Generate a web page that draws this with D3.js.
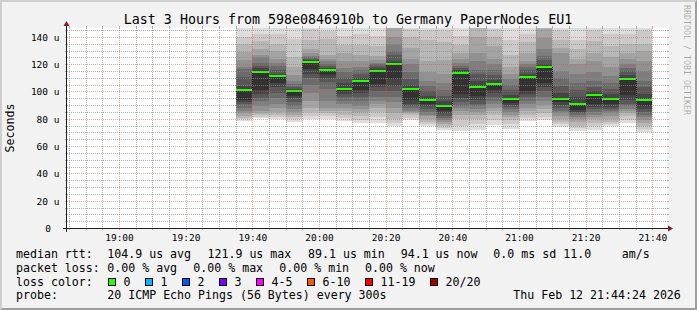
<!DOCTYPE html>
<html>
<head>
<meta charset="utf-8">
<script src="https://cdn.jsdelivr.net/npm/d3@7"></script>
<style>
  html, body { margin: 0; padding: 0; background: #f2f2f2; }
  svg { display: block; }
  text { font-family: "DejaVu Sans Mono", monospace; fill: #000; }
</style>
</head>
<body>
<svg id="chart" width="697" height="310"></svg>
<script>
// ---- data ----
const title = 'Last 3 Hours from 598e0846910b to Germany PaperNodes EU1';
const day = '2026-02-12';
const rangeStart = '18:44:24';
const rangeEnd = '21:44:24';

// end of each 300s step
const slots = ['19:40', '19:45', '19:50', '19:55', '20:00', '20:05', '20:10', '20:15', '20:20',
  '20:25', '20:30', '20:35', '20:40', '20:45', '20:50', '20:55', '21:00', '21:05', '21:10',
  '21:15', '21:20', '21:25', '21:30', '21:35', '21:40'];

// 20 sorted ping times (us) per step; the 11th one is the median
const pings = [
  [78.5, 79.5, 80.5, 82, 84, 86, 88, 91, 92, 93.4, 101.2, 104, 110.8, 116.6, 118, 122.7, 128.8, 134.9, 139.8, 150],
  [80.5, 81.5, 82.5, 84, 86, 89, 93, 95, 98, 101, 114.6, 117, 119, 121, 125, 127, 131, 137, 142, 150],
  [80, 81.5, 83, 85, 88, 91, 95, 99, 103, 106, 111.4, 113, 116, 119, 121, 124, 130, 135, 142, 150],
  [78, 79.5, 81.5, 83, 85, 87, 89, 92, 95, 97, 100, 101.5, 103.5, 105.5, 108, 112, 118, 125, 138.5, 148],
  [80, 82, 85, 88, 93, 99, 105, 110, 113, 116.5, 121.9, 123, 124, 125, 126, 128, 131, 138, 146, 150],
  [80, 82, 84, 86, 88, 93, 102, 107, 110, 112, 116.1, 117.5, 119, 120, 122, 124, 127, 138.6, 144, 150],
  [78.5, 80.5, 83, 86, 88, 91, 93, 96, 98, 100, 102.1, 106, 110, 114, 117, 122, 128, 134, 141, 150],
  [77, 79, 82, 85, 87, 89, 93, 96, 99, 101, 108, 110, 113, 116, 118, 122, 127, 134, 142, 150],
  [77, 81, 85, 88, 91, 93, 96, 100, 103, 105.5, 115.3, 117, 118.5, 120, 121, 123, 126, 133, 141, 150],
  [74.8, 77, 80, 84, 88, 92, 96, 100, 104, 109, 119.8, 122, 127, 130, 135, 140, 148, 150, 152, 155],
  [79, 80.5, 82.5, 84, 85, 86, 88, 89.5, 91, 94, 102.1, 105, 109, 114, 120, 124, 132, 140, 146, 148],
  [74.8, 76, 78, 80, 82, 83, 85, 87, 89, 91, 94.1, 97, 100, 104, 108, 114, 122, 138, 145, 148],
  [72, 73.5, 75, 76.5, 78, 79, 80.5, 82, 84, 85.5, 89.1, 93, 97, 101, 106, 113, 123, 136, 145, 147],
  [71, 75, 80, 83, 86, 88, 89.5, 92, 95, 98, 113.9, 116, 117.5, 119, 121, 124, 128, 134, 141, 148],
  [72, 76, 80, 83, 85, 87, 89, 91, 94, 97, 103.4, 108, 113, 116, 122, 128, 140, 148, 150, 152],
  [75.5, 79, 83, 86, 88, 91, 93, 96, 99, 101, 105.8, 108.5, 112, 116, 120, 124, 133, 140, 146, 148],
  [72.6, 76, 79, 81, 83, 85, 87, 88.5, 90, 91.5, 94.8, 97.5, 101, 105, 109, 113, 118, 127, 138, 148],
  [78.5, 80.5, 83, 86, 88, 91, 93, 96, 98, 100.5, 110.7, 113, 116, 118, 120, 122, 128, 136, 142, 150],
  [79, 81.5, 84, 87, 90, 93, 96, 100, 103, 106, 118, 120, 123, 126, 131, 139, 146, 148, 150, 152],
  [74, 76, 78, 80, 82, 84, 86, 88, 90, 92, 94.8, 99, 104, 110, 115, 128, 132, 138, 145, 148],
  [71, 73, 75, 78, 79.5, 81, 83, 84, 85, 86.5, 90.9, 96, 101, 106, 113, 120, 124, 131, 138, 148],
  [72, 74.5, 77, 80, 81.5, 83, 85, 87, 88.5, 91, 97.5, 100, 103, 108, 114, 122, 128, 137, 145, 148],
  [75, 76.5, 78, 80, 82, 84, 85.5, 87, 88.5, 90.5, 94.8, 98, 102, 106, 111, 118, 125, 133, 142, 147],
  [77, 79, 82, 84, 86, 87, 89, 91, 94, 97.5, 109.5, 112, 115, 117, 120, 124, 128, 135, 142, 148],
  [70.4, 72.5, 75, 77, 79, 81, 83, 85, 87, 89, 94.1, 98, 103, 108, 115, 122, 130, 135, 145, 147]
];

const yMax = 146.5;
const yLabels = [0, 20, 40, 60, 80, 100, 120, 140];

const lossLabels = ['0', '1', '2', '3', '4-5', '6-10', '11-19', '20/20'];
const lossColors = ['#26ff00', '#00b8ff', '#0059ff', '#7e00ff', '#ff00ff', '#ff5500', '#ff0000', '#a10000'];

const rttLegend = [['median rtt:', 16], ['104.9 us avg', 107.3], ['121.9 us max', 207.5], ['89.1 us min', 308],
  ['94.1 us now', 400.7], ['0.0 ms sd', 493.3], ['11.0', 563.3], ['am/s', 621.7]];
const lossLegend = [['packet loss:', 16], ['0.00 % avg', 107.3], ['0.00 % max', 193.3],
  ['0.00 % min', 279.3], ['0.00 % now', 365]];
const probeText = '20 ICMP Echo Pings (56 Bytes) every 300s';
const stamp = 'Thu Feb 12 21:44:24 2026';

// ---- rrdtool look ----
const W = 697, H = 310;
const X0 = 67, X1 = 667, Y0 = 228, Y1 = 28;
const col = {
  back: '#f2f2f2', canvas: '#ffffff', shadeA: '#cfcfcf', shadeB: '#9e9e9e',
  grid: 'rgba(143,143,143,0.7)', mgrid: 'rgba(222,79,79,0.5)',
  arrow: '#801f1f', axis: '#1f1f1f'
};

const parse = d3.timeParse('%Y-%m-%d %H:%M:%S');
const tStart = parse(day + ' ' + rangeStart);
const tEnd = parse(day + ' ' + rangeEnd);
const step = 300 * 1000;

const x = d3.scaleTime().domain([tStart, tEnd]).range([X0, X1]);
const y = d3.scaleLinear().domain([0, yMax]).range([Y0, Y1]);
const px = v => Math.round(v);

const svg = d3.select('#chart');

// background + 3d frame
svg.append('rect').attr('width', W).attr('height', H).attr('fill', col.back);
svg.append('path').attr('fill', col.shadeA)
  .attr('d', `M0,0 H${W} L${W - 2},2 H2 V${H - 2} L0,${H} Z`);
svg.append('path').attr('fill', col.shadeB)
  .attr('d', `M${W},0 V${H} H0 L2,${H - 2} H${W - 2} V2 Z`);

svg.append('rect').attr('x', X0).attr('y', Y1).attr('width', X1 - X0).attr('height', Y0 - Y1)
  .attr('fill', col.canvas);

svg.append('clipPath').attr('id', 'plotclip')
  .append('rect').attr('x', X0).attr('y', Y1).attr('width', X1 - X0).attr('height', Y0 - Y1);

const plot = svg.append('g').attr('clip-path', 'url(#plotclip)').attr('shape-rendering', 'crispEdges');

// smoke: band k spans ping k .. ping (21-k), darker toward the middle
const steps = slots.map((s, i) => ({
  t1: parse(day + ' ' + s + ':00'),
  p: pings[i]
}));
steps.forEach(d => { d.t0 = new Date(d.t1.getTime() - step); });

for (let k = 1; k <= 10; k++) {
  const g = Math.floor(190 / 10 * (10 - k)) + 50;
  const grey = d3.rgb(g, g, g).formatHex();
  plot.append('g').selectAll('rect')
    .data(steps)
    .enter()
    .append('rect')
    .attr('x', d => px(x(d.t0)))
    .attr('width', d => px(x(d.t1)) - px(x(d.t0)))
    .attr('y', d => px(y(d.p[20 - k])))
    .attr('height', d => px(y(d.p[k - 1])) - px(y(d.p[20 - k])))
    .attr('fill', grey);
}

// median: dotted joins between steps, then loss coloured line
const joins = steps.slice(1).map((d, i) => ({ t: d.t0, a: steps[i].p[10], b: d.p[10] }));
plot.append('g').selectAll('line')
  .data(joins)
  .enter()
  .append('line')
  .attr('x1', d => px(x(d.t)) + 0.5)
  .attr('x2', d => px(x(d.t)) + 0.5)
  .attr('y1', d => px(y(d.a)))
  .attr('y2', d => px(y(d.b)))
  .attr('stroke', '#000')
  .attr('stroke-dasharray', '1,1');

plot.append('g').selectAll('rect')
  .data(steps)
  .enter()
  .append('rect')
  .attr('x', d => px(x(d.t0)))
  .attr('width', d => px(x(d.t1)) - px(x(d.t0)))
  .attr('y', d => px(y(d.p[10])) - 1)
  .attr('height', 2)
  .attr('fill', lossColors[0]);

// grid on top, like rrdtool
const grid = svg.append('g').attr('shape-rendering', 'crispEdges');
const yMinor = d3.range(5, yMax, 5);
yMinor.forEach(v => {
  const major = v % 20 === 0;
  const yy = px(y(v)) + 0.5;
  const c = major ? col.mgrid : col.grid;
  grid.append('line').attr('x1', X0 - 2).attr('x2', X0).attr('y1', yy).attr('y2', yy).attr('stroke', c);
  grid.append('line').attr('x1', X1).attr('x2', X1 + 2).attr('y1', yy).attr('y2', yy).attr('stroke', c);
  grid.append('line').attr('x1', X0).attr('x2', X1).attr('y1', yy).attr('y2', yy)
    .attr('stroke', c).attr('stroke-dasharray', '1,1');
});
d3.timeMinute.every(5).range(tStart, tEnd).forEach(t => {
  const major = t.getMinutes() % 20 === 0;
  const xx = px(x(t)) + 0.5;
  const c = major ? col.mgrid : col.grid;
  if (xx - 0.5 <= X0) return;
  grid.append('line').attr('x1', xx).attr('x2', xx).attr('y1', Y0).attr('y2', Y0 + 2).attr('stroke', c);
  grid.append('line').attr('x1', xx).attr('x2', xx).attr('y1', Y1 - 2).attr('y2', Y1).attr('stroke', c);
  grid.append('line').attr('x1', xx).attr('x2', xx).attr('y1', Y1).attr('y2', Y0)
    .attr('stroke', c).attr('stroke-dasharray', '1,1');
});

// axes + arrows
grid.append('line').attr('x1', X0 - 4).attr('x2', X1 + 2).attr('y1', Y0 + 0.5).attr('y2', Y0 + 0.5)
  .attr('stroke', col.axis);
grid.append('line').attr('x1', X0 - 0.5).attr('x2', X0 - 0.5).attr('y1', Y0 + 4).attr('y2', Y1 - 2)
  .attr('stroke', col.axis);
svg.append('path').attr('fill', col.arrow)
  .attr('d', `M${X1 + 1},${Y0 - 2.5} L${X1 + 6},${Y0 + 0.5} L${X1 + 1},${Y0 + 3.5} Z`);
svg.append('path').attr('fill', col.arrow)
  .attr('d', `M${X0 - 3.5},${Y1 - 2} L${X0 - 0.5},${Y1 - 7} L${X0 + 2.5},${Y1 - 2} Z`);

// axis labels
const yAxis = svg.append('g')
  .attr('transform', 'translate(59.5,0)')
  .call(d3.axisLeft(y).tickValues(yLabels).tickSize(0).tickPadding(0)
    .tickFormat(v => v === 0 ? '0' : v + ' u'));
yAxis.select('.domain').remove();
yAxis.selectAll('text')
  .attr('font-family', '"DejaVu Sans Mono", monospace')
  .attr('font-size', 9.5)
  .attr('dy', '0.36em')
  .attr('x', v => v === 0 ? -8.5 : 0);

const xAxis = svg.append('g')
  .attr('transform', 'translate(0,241)')
  .call(d3.axisBottom(x).ticks(d3.timeMinute.every(20)).tickSize(0).tickPadding(0)
    .tickFormat(d3.timeFormat('%H:%M')));
xAxis.select('.domain').remove();
xAxis.selectAll('text')
  .attr('font-family', '"DejaVu Sans Mono", monospace')
  .attr('font-size', 9.5)
  .attr('y', 0)
  .attr('dy', 0);

// titles
svg.append('text').attr('x', 348).attr('y', 24).attr('text-anchor', 'middle')
  .attr('font-size', 13.3).text(title);
svg.append('text').attr('transform', 'translate(13.5,128) rotate(-90)').attr('text-anchor', 'middle')
  .attr('font-size', 11.6).text('Seconds');
svg.append('text').attr('transform', 'translate(684,5) rotate(90)')
  .attr('font-size', 8.3).style('fill', 'rgba(0,0,0,0.32)').text('RRDTOOL / TOBI OETIKER');

// legend
const leg = svg.append('g').attr('font-size', 11.6);
const rows = [258, 271.7, 285.5, 299.2];
rttLegend.forEach(([s, xx]) => leg.append('text').attr('x', xx).attr('y', rows[0]).text(s));
lossLegend.forEach(([s, xx]) => leg.append('text').attr('x', xx).attr('y', rows[1]).text(s));
leg.append('text').attr('x', 16).attr('y', rows[2]).text('loss color:');
let bx = 108.5;
lossLabels.forEach((s, i) => {
  leg.append('rect').attr('x', bx).attr('y', 278.5).attr('width', 7).attr('height', 7)
    .attr('fill', lossColors[i]).attr('stroke', '#000').attr('shape-rendering', 'crispEdges');
  leg.append('text').attr('x', bx + 15).attr('y', rows[2]).text(s);
  bx += 30 + 7 * s.length;
});
leg.append('text').attr('x', 16).attr('y', rows[3]).text('probe:');
leg.append('text').attr('x', 107.3).attr('y', rows[3]).text(probeText);
leg.append('text').attr('x', 513.3).attr('y', rows[3]).text(stamp);
</script>
</body>
</html>
